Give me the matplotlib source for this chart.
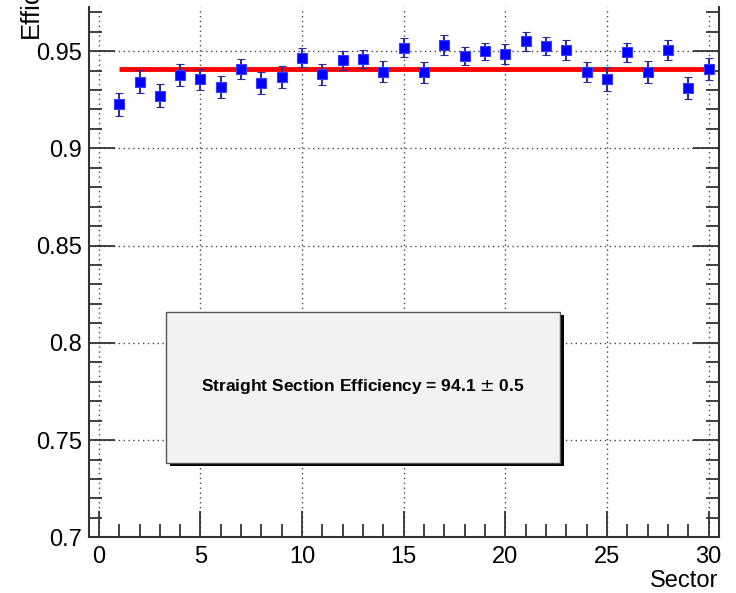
import matplotlib
matplotlib.use("Agg")
import matplotlib.pyplot as plt
from matplotlib.patches import Rectangle
from matplotlib.ticker import MultipleLocator

# Per-sector efficiency with statistical uncertainty
sectors = list(range(1, 31))
efficiency = [0.9226, 0.9342, 0.9270, 0.9375, 0.9354, 0.9316, 0.9407, 0.9335, 0.9366, 0.9466,
              0.9380, 0.9452, 0.9459, 0.9394, 0.9518, 0.9390, 0.9531, 0.9474, 0.9498, 0.9486,
              0.9551, 0.9526, 0.9505, 0.9394, 0.9356, 0.9493, 0.9392, 0.9505, 0.9310, 0.9407]
eff_err = [0.0058, 0.0059, 0.0059, 0.0056, 0.0055, 0.0056, 0.0051, 0.0056, 0.0058, 0.0048,
           0.0052, 0.0048, 0.0048, 0.0055, 0.0050, 0.0056, 0.0050, 0.0048, 0.0046, 0.0050,
           0.0049, 0.0046, 0.0052, 0.0052, 0.0063, 0.0050, 0.0057, 0.0050, 0.0058, 0.0056]

# Constant fit over all sectors
fit_range = [1, 30]
fit_value = 0.941
fit_err = 0.005

plt.rcParams['font.family'] = ['Liberation Sans', 'DejaVu Sans']

fig = plt.figure(figsize=(7.36, 5.93), dpi=100)
W, H = 736, 593
ax = fig.add_axes([88.7 / W, 1 - 537.3 / H, (718.7 - 88.7) / W, (537.3 - 7.3) / H])

ax.set_xlim(-0.5, 30.5)
ax.set_ylim(0.7, 0.9725)

ax.xaxis.set_major_locator(MultipleLocator(5))
ax.xaxis.set_minor_locator(MultipleLocator(1))
ax.yaxis.set_major_locator(MultipleLocator(0.05))
ax.yaxis.set_minor_locator(MultipleLocator(0.01))
ax.set_yticks([0.7, 0.75, 0.8, 0.85, 0.9, 0.95])
ax.set_yticklabels(['0.7', '0.75', '0.8', '0.85', '0.9', '0.95'])

ax.tick_params(axis='both', which='both', direction='in', colors='#333333', width=1.3,
               labelcolor='black', labelsize=17)
ax.tick_params(axis='y', which='both', right=True, left=True)
ax.tick_params(axis='x', which='both', top=False, bottom=True, pad=6)
ax.tick_params(axis='y', which='both', pad=5)
ax.tick_params(which='major', length=19)
ax.tick_params(which='minor', length=9.5)

for side in ['left', 'right', 'bottom']:
    ax.spines[side].set_color('#333333')
    ax.spines[side].set_linewidth(1.5)
ax.spines['top'].set_visible(False)

ax.grid(True, which='major', linestyle=(0, (1, 2.5)), color='#444444', linewidth=1.0)
ax.set_axisbelow(True)

ax.plot(fit_range, [fit_value, fit_value], color='#ff0000', linewidth=3.5,
        solid_capstyle='butt', zorder=3)

ax.errorbar(sectors, efficiency, yerr=eff_err, fmt='s', color='#0000ff',
            markersize=7.5, markeredgecolor='#3a3aff', markeredgewidth=0.8,
            ecolor='#2a2a9a', elinewidth=1.4, capsize=3, capthick=1.4, zorder=4)

# Result box with drop shadow
bx0, bx1 = 3.32, 22.7
by0, by1 = 0.738, 0.8158
dx, dy = 0.17, -0.0015
ax.add_patch(Rectangle((bx0 + dx, by0 + dy), bx1 - bx0, by1 - by0,
                       facecolor='black', edgecolor='black', linewidth=0, zorder=5))
ax.add_patch(Rectangle((bx0, by0), bx1 - bx0, by1 - by0,
                       facecolor='#f2f2f2', edgecolor='#555555', linewidth=1.0, zorder=6))
ax.text((bx0 + bx1) / 2, (by0 + by1) / 2 + 0.0005,
        f"Straight Section Efficiency = {fit_value * 100:.1f} $\\pm$ {fit_err * 100:.1f}",
        ha='center', va='center', fontsize=12.5, fontweight='bold', zorder=7)

ax.set_xlabel('Sector', fontsize=17, loc='right', labelpad=2)
fig.text(31 / W, 1 - 38 / H, 'Efficiency', rotation=90, fontsize=18.5,
         ha='center', va='bottom')

fig.savefig('out.png', dpi=100)
